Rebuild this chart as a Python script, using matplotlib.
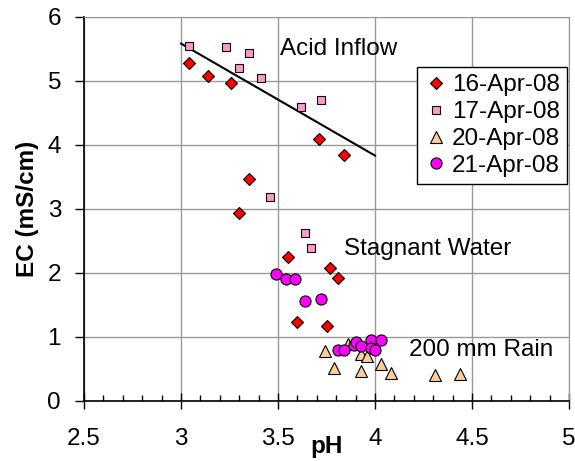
import matplotlib.pyplot as plt
from matplotlib.ticker import MultipleLocator

# EC vs pH for the sampling dates
ph_16apr = [3.04, 3.14, 3.26, 3.71, 3.84, 3.35, 3.30, 3.55, 3.77, 3.81, 3.60, 3.75]
ec_16apr = [5.27, 5.07, 4.97, 4.09, 3.84, 3.46, 2.93, 2.25, 2.07, 1.92, 1.23, 1.17]

ph_17apr = [3.04, 3.23, 3.35, 3.30, 3.41, 3.62, 3.72, 3.46, 3.64, 3.67]
ec_17apr = [5.55, 5.52, 5.43, 5.20, 5.04, 4.59, 4.70, 3.18, 2.62, 2.38]

ph_20apr = [3.74, 3.86, 3.93, 3.96, 3.79, 3.93, 4.03, 4.08, 4.31, 4.44]
ec_20apr = [0.77, 0.88, 0.73, 0.70, 0.51, 0.46, 0.57, 0.44, 0.40, 0.42]

ph_21apr = [3.49, 3.54, 3.59, 3.64, 3.72, 3.81, 3.84, 3.89, 3.90, 3.93, 3.98, 4.03, 3.98, 4.00]
ec_21apr = [1.98, 1.90, 1.90, 1.56, 1.59, 0.79, 0.79, 0.87, 0.91, 0.86, 0.95, 0.95, 0.82, 0.79]

# acid inflow trend line
trend_ph = [3.0, 4.0]
trend_ec = [5.58, 3.83]

plt.rcParams['font.family'] = ['Liberation Sans', 'DejaVu Sans']
fs = 17.5

fig = plt.figure(figsize=(5.75, 4.61), dpi=100)
ax = fig.add_axes([84/575, 1 - 400.7/461, 485/575, 384/461])

ax.plot(ph_16apr, ec_16apr, 'D', ms=6.5, mfc='#FF0000', mec='black', mew=0.8, label='16-Apr-08', zorder=3)
ax.plot(ph_17apr, ec_17apr, 's', ms=5.8, mfc='#FF99CC', mec='black', mew=0.8, label='17-Apr-08', zorder=3)
ax.plot(ph_20apr, ec_20apr, '^', ms=8.5, mfc='#FFCC99', mec='black', mew=0.8, label='20-Apr-08', zorder=3)
ax.plot(ph_21apr, ec_21apr, 'o', ms=8, mfc='#FF00FF', mec='black', mew=0.8, label='21-Apr-08', zorder=3)
ax.plot(trend_ph, trend_ec, '-', color='black', lw=1.5, zorder=2)

ax.text(3.51, 5.50, 'Acid Inflow', fontsize=fs, ha='left', va='center')
ax.text(3.84, 2.37, 'Stagnant Water', fontsize=fs, ha='left', va='center')
ax.text(4.175, 0.79, '200 mm Rain', fontsize=fs, ha='left', va='center')

ax.set_xlim(2.5, 5)
ax.set_ylim(0, 6)
ax.xaxis.set_major_locator(MultipleLocator(0.5))
ax.xaxis.set_minor_locator(MultipleLocator(0.1))
ax.yaxis.set_major_locator(MultipleLocator(1))
ax.grid(True, which='major', color='#999999', lw=1)
ax.set_axisbelow(True)

for s in ['top', 'right']:
    ax.spines[s].set_color('#999999')
for s in ['left', 'bottom']:
    ax.spines[s].set_linewidth(1.2)

ax.tick_params(axis='x', which='major', direction='inout', length=11, width=1, labelsize=fs, pad=14)
ax.tick_params(axis='x', which='minor', direction='in', length=4, width=1)
ax.tick_params(axis='y', which='major', direction='out', length=6.5, width=1, labelsize=fs, pad=10)
ax.xaxis.set_major_formatter(plt.FuncFormatter(lambda v, p: f'{v:g}'))

ax.set_xlabel('pH', fontsize=fs, fontweight='bold', labelpad=-11)
ax.set_ylabel('EC (mS/cm)', fontsize=fs, fontweight='bold', labelpad=6)

leg = ax.legend(loc='upper right', bbox_to_anchor=(0.996, 0.869), borderaxespad=0,
                fontsize=fs, handlelength=1.0, handletextpad=0.15, borderpad=0.3,
                labelspacing=0.2, fancybox=False, framealpha=1, edgecolor='black')
leg.get_frame().set_linewidth(1)

plt.savefig('out.png', dpi=100)
